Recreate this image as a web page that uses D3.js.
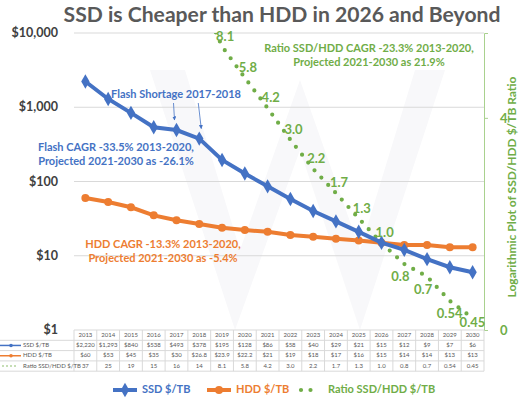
<!DOCTYPE html>
<html>
<head>
<meta charset="utf-8">
<script src="https://cdn.jsdelivr.net/npm/d3@7"></script>
<style>
  body { margin: 0; background: #fff; }
  svg { display: block; font-family: Lato, "Open Sans", sans-serif; }
</style>
</head>
<body>
<script>
// data
const years = [2013, 2014, 2015, 2016, 2017, 2018, 2019, 2020, 2021, 2022, 2023, 2024, 2025, 2026, 2027, 2028, 2029, 2030];
const ssd = [2220, 1293, 840, 538, 493, 378, 195, 128, 86, 58, 40, 29, 21, 15, 12, 9, 7, 6];
const hdd = [60, 53, 45, 35, 30, 26.8, 23.9, 22.2, 21, 19, 18, 17, 16, 15, 14, 14, 13, 13];
const ratio = [37, 25, 19, 15, 16, 14, 8.1, 5.8, 4.2, 3.0, 2.2, 1.7, 1.3, 1.0, 0.8, 0.7, 0.54, 0.45];
const ratioText = ["37", "25", "19", "15", "16", "14", "8.1", "5.8", "4.2", "3.0", "2.2", "1.7", "1.3", "1.0", "0.8", "0.7", "0.54", "0.45"];
const yTicks = [1, 10, 100, 1000, 10000];
const rightTicks = [0, 4];
const firstLabelYear = 2019;

const width = 520, height = 400;
const blue = "#4472C4", orange = "#ED7D31", green = "#70AD47";

let margin = { top: 33, bottom: 70, left: 74, right: 36 };

let svg = d3.select("body")
  .append("svg")
  .attr("width", width)
  .attr("height", height);

// scales
let xScale = d3.scaleBand()
  .domain(years)
  .range([margin.left, width - margin.right]);
const cx = d => xScale(d) + xScale.bandwidth() / 2;

let yScale = d3.scaleLog()
  .domain([1, 10000])
  .range([height - margin.bottom, margin.top]);

// ratio sits on its own log axis (secondary)
let ratioScale = d3.scaleLog()
  .domain([1, 10])
  .range([243, 26.6]);

let rightScale = d3.scaleLinear()
  .domain([0, 5.6])
  .range([height - margin.bottom, margin.top]);

svg.append("clipPath").attr("id", "plot")
  .append("rect")
  .attr("x", margin.left - 10).attr("y", margin.top)
  .attr("width", width - margin.left - margin.right + 20)
  .attr("height", height - margin.top - margin.bottom);

// faint watermark
svg.append("path")
  .attr("d", "M150,70 L235,330 L300,150 L360,330 L445,70 L415,70 L360,250 L300,80 L240,250 L185,70 Z")
  .attr("fill", "#f8f8fa");

// gridlines
svg.append("g")
  .selectAll("line")
  .data(yTicks.slice(1))
  .enter().append("line")
  .attr("x1", margin.left).attr("x2", width - margin.right)
  .attr("y1", d => yScale(d)).attr("y2", d => yScale(d))
  .attr("stroke", "#d9d9d9");

// left axis labels
svg.append("g")
  .selectAll("text")
  .data(yTicks)
  .enter().append("text")
  .attr("x", 58)
  .attr("y", d => yScale(d) + 1)
  .attr("text-anchor", "end")
  .attr("dominant-baseline", "middle")
  .style("font-size", "12.5px")
  .style("font-weight", "bold")
  .style("fill", "#404040")
  .text(d => "$" + d3.format(",")(d));

// right axis
let rightAxis = svg.append("g")
  .attr("transform", `translate(${width - margin.right},0)`)
  .call(d3.axisRight(rightScale).tickValues(rightTicks).tickFormat(d3.format("d")).tickSize(4).tickPadding(12));
rightAxis.select(".domain").attr("stroke", "#a9d18e");
rightAxis.selectAll(".tick line").attr("stroke", "#a9d18e");
rightAxis.selectAll(".tick text")
  .style("font-family", "Lato, sans-serif")
  .style("font-size", "13px")
  .style("font-weight", "bold")
  .style("fill", green);

svg.append("text")
  .attr("transform", "translate(516,187) rotate(-90)")
  .attr("text-anchor", "middle")
  .style("font-size", "12px")
  .style("font-weight", "bold")
  .style("fill", green)
  .text("Logarithmic Plot of SSD/HDD $/TB Ratio");

// ratio dotted line
let ratioLine = d3.line()
  .x((d, i) => cx(years[i]))
  .y(d => ratioScale(d));

svg.append("path")
  .datum(ratio)
  .attr("clip-path", "url(#plot)")
  .attr("d", ratioLine)
  .attr("fill", "none")
  .attr("stroke", green)
  .attr("stroke-width", 4.2)
  .attr("stroke-linecap", "round")
  .attr("stroke-dasharray", "0 10");

// HDD line
let valueLine = d3.line()
  .x((d, i) => cx(years[i]))
  .y(d => yScale(d));

svg.append("path")
  .datum(hdd)
  .attr("d", valueLine)
  .attr("fill", "none")
  .attr("stroke", orange)
  .attr("stroke-width", 4);

svg.append("g")
  .selectAll("circle")
  .data(hdd)
  .enter().append("circle")
  .attr("cx", (d, i) => cx(years[i]))
  .attr("cy", d => yScale(d))
  .attr("r", 4)
  .attr("fill", orange);

// SSD line
svg.append("path")
  .datum(ssd)
  .attr("d", valueLine)
  .attr("fill", "none")
  .attr("stroke", blue)
  .attr("stroke-width", 4);

svg.append("g")
  .selectAll("path")
  .data(ssd)
  .enter().append("path")
  .attr("transform", (d, i) => `translate(${cx(years[i])},${yScale(d)})`)
  .attr("d", d3.symbol(d3.symbolDiamond, 60))
  .attr("fill", blue);

// ratio data labels
const tableTop = height - margin.bottom;
const start = years.indexOf(firstLabelYear);
svg.append("g")
  .selectAll("text")
  .data(ratio.slice(start))
  .enter().append("text")
  .attr("x", (d, i) => cx(years[i + start]) + (d >= 1 ? -6 : -13))
  .attr("y", d => d >= 1 ? ratioScale(d) - 9 : Math.min(ratioScale(d) + 14, tableTop - 6))
  .attr("dominant-baseline", "middle")
  .style("font-size", "13px")
  .style("font-weight", "bold")
  .style("fill", green)
  .text((d, i) => ratioText[i + start]);

// annotations
function note(lines, x, y, color) {
  svg.append("g").selectAll("text")
    .data(lines)
    .enter().append("text")
    .attr("x", x)
    .attr("y", (d, i) => y + i * 14.5)
    .attr("text-anchor", "middle")
    .attr("dominant-baseline", "middle")
    .style("font-size", "11px")
    .style("font-weight", "bold")
    .style("fill", color)
    .text(d => d);
}
note(["Flash Shortage 2017-2018"], 176, 95, blue);
note(["Flash CAGR -33.5% 2013-2020,", "Projected 2021-2030 as -26.1%"], 116, 148, blue);
note(["HDD CAGR -13.3% 2013-2020,", "Projected 2021-2030 as -5.4%"], 163, 245, orange);
note(["Ratio SSD/HDD CAGR -23.3% 2013-2020,", "Projected 2021-2030 as 21.9%"], 369, 49, green);

// arrows for the flash shortage
svg.append("defs").append("marker")
  .attr("id", "arrow")
  .attr("viewBox", "0 0 10 10").attr("refX", 9).attr("refY", 5)
  .attr("markerWidth", 5).attr("markerHeight", 5).attr("orient", "auto")
  .append("path").attr("d", "M0,0 L10,5 L0,10 Z").attr("fill", blue);

[2017, 2018].forEach((yr, k) => {
  let i = years.indexOf(yr);
  svg.append("line")
    .attr("x1", cx(yr) - 3 + k * 2).attr("y1", 103)
    .attr("x2", cx(yr) - 2 + k * 4).attr("y2", yScale(ssd[i]) - 10)
    .attr("stroke", blue).attr("stroke-width", 0.8)
    .attr("marker-end", "url(#arrow)");
});

// data table under the chart
const rowH = 10.3;
const rows = [
  { name: "SSD $/TB", values: ssd.map(d => "$" + d3.format(",")(d)), color: blue, key: "line" },
  { name: "HDD $/TB", values: hdd.map(d => "$" + d3.format(",")(d)), color: orange, key: "circle" },
  { name: "Ratio SSD/HDD $/TB", values: ratioText, color: green, key: "dots" }
];

let table = svg.append("g").style("font-size", "6px").style("fill", "#595959");

table.selectAll(".vline")
  .data(years.concat([null]))
  .enter().append("line")
  .attr("x1", (d, i) => margin.left + i * xScale.bandwidth())
  .attr("x2", (d, i) => margin.left + i * xScale.bandwidth())
  .attr("y1", tableTop).attr("y2", tableTop + rowH * 4)
  .attr("stroke", "#d9d9d9");

table.selectAll(".hline")
  .data([0, 1, 2, 3, 4])
  .enter().append("line")
  .attr("x1", d => d === 0 ? margin.left : 0)
  .attr("x2", width - margin.right)
  .attr("y1", d => tableTop + d * rowH).attr("y2", d => tableTop + d * rowH)
  .attr("stroke", "#d9d9d9");

table.selectAll(".year")
  .data(years)
  .enter().append("text")
  .attr("x", d => cx(d))
  .attr("y", tableTop + rowH / 2 + 0.5)
  .attr("text-anchor", "middle")
  .attr("dominant-baseline", "middle")
  .text(d => d);

rows.forEach((r, ri) => {
  let ry = tableTop + rowH * (ri + 1) + rowH / 2;
  table.selectAll(".c" + ri)
    .data(r.values)
    .enter().append("text")
    .attr("x", (d, i) => cx(years[i]))
    .attr("y", ry)
    .attr("text-anchor", "middle")
    .attr("dominant-baseline", "middle")
    .text(d => d);
  table.append("text")
    .attr("x", 23).attr("y", ry)
    .attr("dominant-baseline", "middle")
    .text(r.name);
  if (r.key === "dots") {
    table.append("line")
      .attr("x1", 3).attr("x2", 17).attr("y1", ry).attr("y2", ry)
      .attr("stroke", r.color).attr("stroke-width", 1.5)
      .attr("stroke-linecap", "round").attr("stroke-dasharray", "0 4");
  } else {
    table.append("line")
      .attr("x1", 0).attr("x2", 21).attr("y1", ry).attr("y2", ry)
      .attr("stroke", r.color).attr("stroke-width", 1.5);
    table.append("circle")
      .attr("cx", 11).attr("cy", ry).attr("r", 1.8).attr("fill", r.color);
  }
});

// legend
const legendItems = [
  { name: "SSD $/TB", color: blue, x: 113, key: "diamond" },
  { name: "HDD $/TB", color: orange, x: 207, key: "circle" },
  { name: "Ratio SSD/HDD $/TB", color: green, x: 300, key: "dots" }
];
const legendY = 390;

let legend = svg.selectAll(".legend")
  .data(legendItems)
  .enter().append("g")
  .attr("class", "legend")
  .attr("transform", d => `translate(${d.x},${legendY})`);

legend.filter(d => d.key !== "dots").append("line")
  .attr("x1", 0).attr("x2", 24)
  .attr("stroke", d => d.color).attr("stroke-width", 4);
legend.filter(d => d.key === "diamond").append("path")
  .attr("transform", "translate(12,0)")
  .attr("d", d3.symbol(d3.symbolDiamond, 60))
  .attr("fill", blue);
legend.filter(d => d.key === "circle").append("circle")
  .attr("cx", 12).attr("r", 4).attr("fill", orange);
legend.filter(d => d.key === "dots").append("line")
  .attr("x1", 1).attr("x2", 20)
  .attr("stroke", green).attr("stroke-width", 4.2)
  .attr("stroke-linecap", "round").attr("stroke-dasharray", "0 9.5");

legend.append("text")
  .attr("x", d => d.key === "dots" ? 28 : 29)
  .attr("dominant-baseline", "middle")
  .style("font-size", "11px")
  .style("font-weight", "bold")
  .style("fill", d => d.color)
  .text(d => d.name);

// title, sized to the width it takes in the reference
let title = svg.append("text")
  .attr("x", 282).attr("y", 17)
  .attr("text-anchor", "middle")
  .attr("dominant-baseline", "middle")
  .style("font-size", "22px")
  .style("font-weight", "bold")
  .style("fill", "#595959")
  .text("SSD is Cheaper than HDD in 2026 and Beyond");
let tw = title.node().getComputedTextLength();
title.style("font-size", (22 * 437 / tw) + "px");
</script>
</body>
</html>
